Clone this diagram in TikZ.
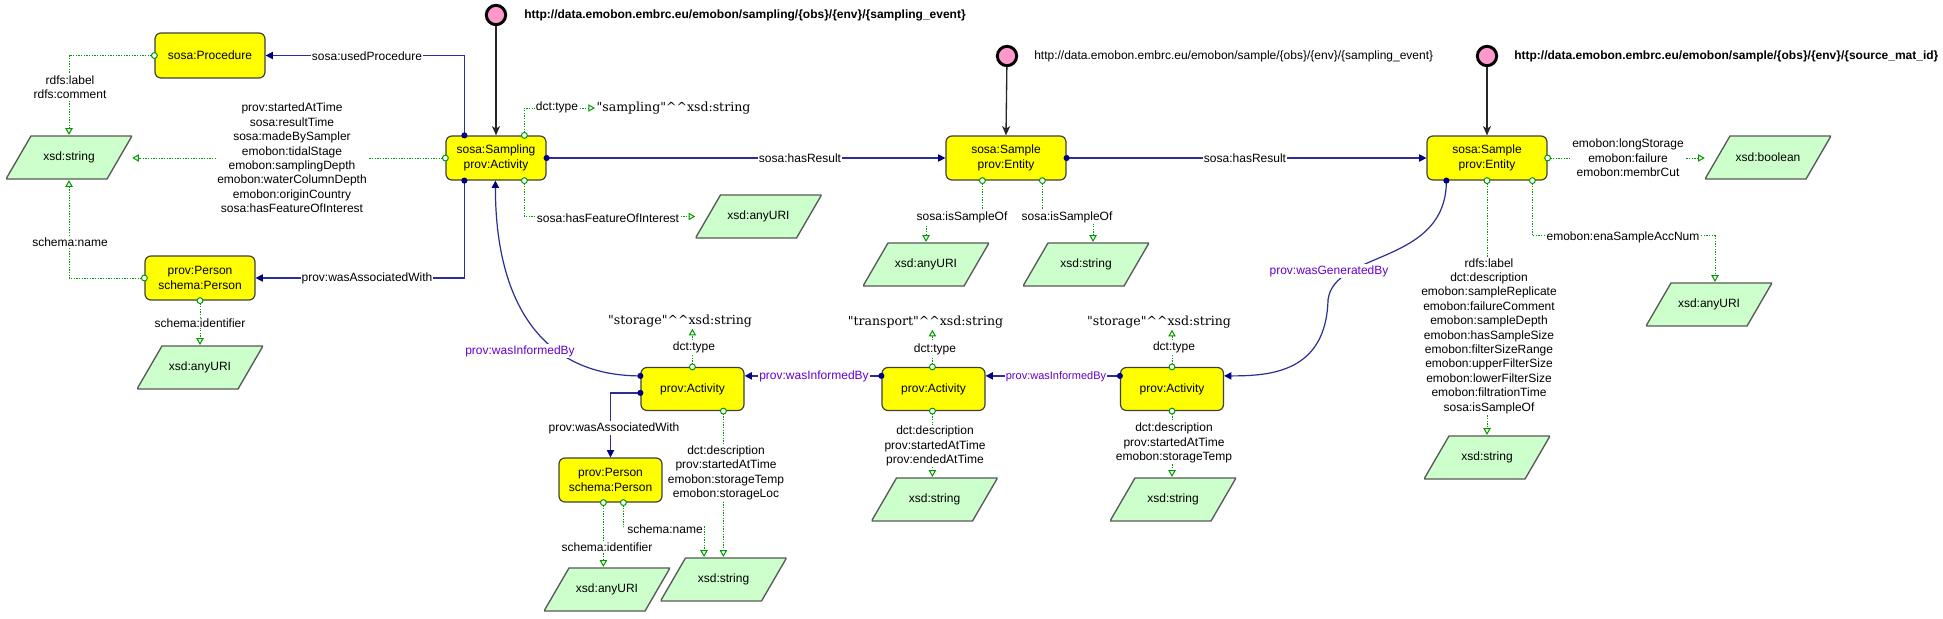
\documentclass[tikz,border=0pt]{standalone}
\usepackage{fontspec}
\newfontfamily\sans{Liberation Sans}
\newfontfamily\serifl{DejaVu Serif}
\usetikzlibrary{arrows.meta,calc,decorations.markings}
\definecolor{gline}{RGB}{0,153,0}
\definecolor{bline}{RGB}{45,45,150}
\definecolor{navyc}{RGB}{0,0,128}
\definecolor{litgreen}{RGB}{204,255,204}
\definecolor{pinkc}{RGB}{255,153,204}
\definecolor{purp}{RGB}{102,0,204}
\definecolor{boxy}{RGB}{255,255,0}
\newcommand\fs{\fontsize{9}{10.8}\selectfont}
\newcommand\fsm{\fontsize{8.25}{10}\selectfont}
\newcommand\flit{\fontsize{9.4}{11.5}\selectfont}
\newcommand\cc{\textasciicircum\textasciicircum}
\tikzset{
 ybox/.style={rectangle, rounded corners=4.5pt, fill=boxy, draw=black!75, line width=0.9pt, font=\sans\fs, align=center, inner sep=1pt},
 lit/.style={rectangle, minimum width=94.5pt, minimum height=33.5pt, inner sep=0pt, font=\sans\fs,
   path picture={\draw[fill=litgreen, draw=black!65, line width=1pt]
     ([xshift=18.75pt,yshift=-0.6pt]path picture bounding box.north west) --
     ([yshift=-0.6pt]path picture bounding box.north east) --
     ([xshift=-18.75pt,yshift=0.6pt]path picture bounding box.south east) --
     ([yshift=0.6pt]path picture bounding box.south west) -- cycle;}},
 gedge/.style={draw=gline, line width=0.75pt, dash pattern=on 1pt off 1pt,
   -{Triangle[open, length=5pt, width=5.5pt, line width=0.75pt]},
   decoration={markings, mark=at position 0 with {\draw[solid, gline, fill=white, line width=0.75pt] (0,0) circle (2.2pt);}},
   postaction={decorate}},
 bedge/.style={draw=bline, line width=0.9pt, -{Triangle[length=5.5pt, width=5.5pt, color=navyc]},
   decoration={markings, mark=at position 0 with {\fill[navyc] (0,0) circle (2.3pt);}},
   postaction={decorate}},
 kedge/.style={draw=black!85, line width=1pt, -{Stealth[length=7pt, width=6pt, inset=2pt]}},
 elabel/.style={font=\sans\fs, fill=white, inner sep=0.8pt, align=center},
 plabel/.style={elabel, text=purp},
 litext/.style={font=\serifl\flit, inner sep=1pt},
 urlb/.style={font=\sans\fs\bfseries, anchor=west, inner sep=0pt},
 urlr/.style={font=\sans\fs, anchor=west, inner sep=0pt},
 pinkdot/.style={circle, fill=pinkc, draw=black, line width=2.2pt, minimum size=14.5pt, inner sep=0pt},
}
\begin{document}
\begin{tikzpicture}[x=0.75pt,y=-0.75pt]
\fill[white] (0,0) rectangle (1943,618);
\useasboundingbox (0,0) rectangle (1943,618);

% class boxes
\node[ybox, minimum width=82.5pt, minimum height=33.75pt] (proc) at (210,55.5) {sosa:Procedure};
\node[ybox, minimum width=75pt, minimum height=33pt] (samp) at (496,158) {sosa:Sampling\\prov:Activity};
\node[ybox, minimum width=82.5pt, minimum height=33pt] (pers1) at (200,278) {prov:Person\\schema:Person};
\node[ybox, minimum width=90pt, minimum height=33pt] (s1) at (1006,158) {sosa:Sample\\prov:Entity};
\node[ybox, minimum width=90pt, minimum height=33pt] (s2) at (1487,158) {sosa:Sample\\prov:Entity};
\node[ybox, minimum width=77.25pt, minimum height=32.25pt] (a1) at (692.5,389) {prov:Activity};
\node[ybox, minimum width=77.25pt, minimum height=32.25pt] (a2) at (933.5,389) {prov:Activity};
\node[ybox, minimum width=77.25pt, minimum height=32.25pt] (a3) at (1172,389) {prov:Activity};
\node[ybox, minimum width=77.25pt, minimum height=33pt] (pers2) at (610.5,480) {prov:Person\\schema:Person};

% datatype parallelograms
\node[lit] (xsL) at (69,157.5) {xsd:string};
\node[lit] (xsAnyP) at (200,367.5) {xsd:anyURI};
\node[lit] (xsAnyS) at (758.5,216.5) {xsd:anyURI};
\node[lit] (xsAny1) at (926,264.5) {xsd:anyURI};
\node[lit] (xsStr1) at (1086,264.5) {xsd:string};
\node[lit] (xsBool) at (1768,157.5) {xsd:boolean};
\node[lit] (xsAny2) at (1709,304.5) {xsd:anyURI};
\node[lit] (xsStr2) at (1487,457.5) {xsd:string};
\node[lit] (xsAnyP2) at (607,589.5) {xsd:anyURI};
\node[lit] (xsStrA1) at (723.5,579.5) {xsd:string};
\node[lit] (xsStrA2) at (934.5,499.5) {xsd:string};
\node[lit] (xsStrA3) at (1173,499.5) {xsd:string};

% literal values
\node[litext, anchor=west] (lit1) at (595,108) {"sampling"\cc xsd:string};
\node[litext] (lit2) at (680,321) {"storage"\cc xsd:string};
\node[litext] (lit3) at (925.5,322) {"transport"\cc xsd:string};
\node[litext] (lit4) at (1159,322) {"storage"\cc xsd:string};

% URI templates
\node[pinkdot] (c1) at (496,15) {};
\node[pinkdot] (c2) at (1007,56) {};
\node[pinkdot] (c3) at (1487,56) {};
\node[urlb] (u1) at (524,15) {http://data.emobon.embrc.eu/emobon/sampling/\{obs\}/\{env\}/\{sampling\_event\}};
\node[urlr] (u2) at (1034,56) {http://data.emobon.embrc.eu/emobon/sample/\{obs\}/\{env\}/\{sampling\_event\}};
\node[urlb] (u3) at (1514,56) {http://data.emobon.embrc.eu/emobon/sample/\{obs\}/\{env\}/\{source\_mat\_id\}};

% anchor coordinates
\coordinate (sampTL) at ($(samp.north west)+(19,0)$);
\coordinate (sampBL) at ($(samp.south west)+(19,0)$);
\coordinate (sampTR) at ($(samp.north west)+(79,0)$);
\coordinate (sampBR) at ($(samp.south west)+(79,0)$);
\coordinate (sampB) at ($(samp.south west)+(50,0)$);
\coordinate (s1b1) at ($(s1.south west)+(37,0)$);
\coordinate (s1b2) at ($(s1.south west)+(97,0)$);
\coordinate (s2bl) at ($(s2.south west)+(20,0)$);
\coordinate (s2b2) at ($(s2.south west)+(106,0)$);
\coordinate (a1w1) at ($(a1.north west)+(0,9)$);
\coordinate (a1w2) at ($(a1.north west)+(0,26)$);
\coordinate (a1e) at ($(a1.north east)+(0,9)$);
\coordinate (a2w) at ($(a2.north west)+(0,9)$);
\coordinate (a2e) at ($(a2.north east)+(0,9)$);
\coordinate (a3w) at ($(a3.north west)+(0,9)$);
\coordinate (a3e) at ($(a3.north east)+(0,9)$);
\coordinate (a1t) at ($(a1.north west)+(52,0)$);
\coordinate (a1b) at ($(a1.south west)+(83,0)$);
\coordinate (a2t) at ($(a2.north west)+(51,0)$);
\coordinate (a2b) at ($(a2.south west)+(51,0)$);
\coordinate (a3t) at (a3.north);
\coordinate (a3b) at (a3.south);
\coordinate (p2b1) at ($(pers2.south west)+(45,0)$);
\coordinate (p2b2) at ($(pers2.south west)+(65,0)$);
\coordinate (gmid) at (1328,300);

% black edges
\draw[kedge] (c1) -- (samp.north);
\draw[kedge] (c2) -- (s1.north);
\draw[kedge] (c3) -- (s2.north);

% blue object-property edges
\draw[bedge] (sampTL) |- (proc.east);
\draw[bedge] (sampBL) |- (pers1.east);
\draw[bedge] (samp.east) -- (s1.west);
\draw[bedge] (s1.east) -- (s2.west);
\draw[bedge] (a1w1) .. controls +(-100,0) and +(0,120) .. (sampB);
\draw[bedge] (a1w2) -| (pers2.north);
\draw[bedge] (a2w) -- (a1e);
\draw[bedge] (a3w) -- (a2e);
\draw[bedge] (s2bl) .. controls +(0,85) and +(6,-50) .. (gmid) .. controls +(-2,72) and +(47,0) .. (a3e);

% green datatype-property edges
\draw[gedge] (proc.west) -| (xsL.north);
\draw[gedge] (samp.west) -- (samp.west -| xsL.east);
\draw[gedge] (pers1.west) -| (xsL.south);
\draw[gedge] (pers1.south) -- (xsAnyP.north);
\draw[gedge] (sampTR) |- (lit1.west);
\draw[gedge] (sampBR) |- (xsAnyS.west);
\draw[gedge] (s1b1) |- ($(xsAny1.north)+(0,-26)$) -- (xsAny1.north);
\draw[gedge] (s1b2) |- ($(xsStr1.north)+(7,-26)$) -- ($(xsStr1.north)+(7,0)$);
\draw[gedge] (s2.east) -- (s2.east -| xsBool.west);
\draw[gedge] (s2b2) |- ($(xsAny2.north)+(6,-46)$) -- ($(xsAny2.north)+(6,0)$);
\draw[gedge] (s2.south) -- (xsStr2.north);
\draw[gedge] (a1t) -- (a1t |- lit2.south);
\draw[gedge] (a1b) -- (a1b |- xsStrA1.north);
\draw[gedge] (p2b1) -- (p2b1 |- xsAnyP2.north);
\draw[gedge] (p2b2) |- ($(xsStrA1.north)+(-19.5,-30)$) -- ($(xsStrA1.north)+(-19.5,0)$);
\draw[gedge] (a2t) -- (a2t |- lit3.south);
\draw[gedge] (a2b) -- (a2b |- xsStrA2.north);
\draw[gedge] (a3t) -- (a3t |- lit4.south);
\draw[gedge] (a3b) -- (a3b |- xsStrA3.north);

% edge labels
\node[elabel] (l1) at (70,87) {rdfs:label\\rdfs:comment};
\node[elabel] (l2) at (292,158) {prov:startedAtTime\\sosa:resultTime\\sosa:madeBySampler\\emobon:tidalStage\\emobon:samplingDepth\\emobon:waterColumnDepth\\emobon:originCountry\\sosa:hasFeatureOfInterest};
\node[elabel] (l3) at (70,242) {schema:name};
\node[elabel] (l4) at (200,323) {schema:identifier};
\node[elabel] (l5) at (557,107) {dct:type};
\node[elabel] (l6) at (608,218) {sosa:hasFeatureOfInterest};
\node[elabel] (l7) at (962,217) {sosa:isSampleOf};
\node[elabel] (l8) at (1067,217) {sosa:isSampleOf};
\node[elabel] (l9) at (1628,158) {emobon:longStorage\\emobon:failure\\emobon:membrCut};
\node[elabel] (l10) at (1623,237) {emobon:enaSampleAccNum};
\node[elabel] (l11) at (1489,336) {rdfs:label\\dct:description\\emobon:sampleReplicate\\emobon:failureComment\\emobon:sampleDepth\\emobon:hasSampleSize\\emobon:filterSizeRange\\emobon:upperFilterSize\\emobon:lowerFilterSize\\emobon:filtrationTime\\sosa:isSampleOf};
\node[elabel] (l12) at (694,347) {dct:type};
\node[elabel] (l13) at (726,473) {dct:description\\prov:startedAtTime\\emobon:storageTemp\\emobon:storageLoc};
\node[elabel] (l14) at (607,547) {schema:identifier};
\node[elabel] (l15) at (665,529) {schema:name};
\node[elabel] (l16) at (935,349) {dct:type};
\node[elabel] (l17) at (935,446) {dct:description\\prov:startedAtTime\\prov:endedAtTime};
\node[elabel] (l18) at (1174,347) {dct:type};
\node[elabel] (l19) at (1174,443) {dct:description\\prov:startedAtTime\\emobon:storageTemp};

\node[elabel] (m1) at (367,56) {sosa:usedProcedure};
\node[elabel] (m2) at (367,278) {prov:wasAssociatedWith};
\node[elabel] (m3) at (800,158) {sosa:hasResult};
\node[elabel] (m4) at (1245,158) {sosa:hasResult};
\node[plabel] (m5) at (520,351) {prov:wasInformedBy};
\node[elabel] (m6) at (614,428) {prov:wasAssociatedWith};
\node[plabel] (m7) at (814,376) {prov:wasInformedBy};
\node[plabel, font=\sans\fsm] (m8) at (1056,377) {prov:wasInformedBy};
\node[plabel] (m9) at (1329,271) {prov:wasGeneratedBy};
\end{tikzpicture}
\end{document}
